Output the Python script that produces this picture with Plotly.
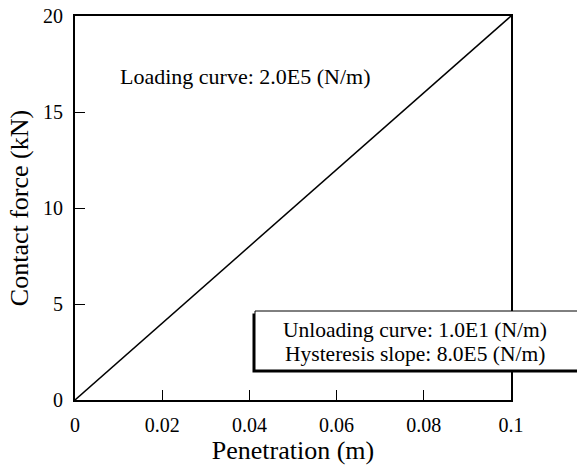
import plotly.graph_objects as go

penetration = [0.0, 0.1]
contact_force = [0.0, 20.0]
x_ticks = [0, 0.02, 0.04, 0.06, 0.08, 0.1]
x_tick_labels = ["0", "0.02", "0.04", "0.06", "0.08", "0.1"]
y_ticks = [0, 5, 10, 15, 20]
y_tick_labels = ["0", "5", "10", "15", "20"]

FONT = "Liberation Serif, Times New Roman, serif"

fig = go.Figure()
fig.add_trace(go.Scatter(x=penetration, y=contact_force, mode="lines",
                         line=dict(color="black", width=1.5), showlegend=False))

fig.update_layout(
    width=577, height=465,
    margin=dict(l=75, r=66, t=16, b=65, autoexpand=False),
    paper_bgcolor="white", plot_bgcolor="white",
    font=dict(family=FONT, color="black", size=20),
    xaxis=dict(range=[0, 0.1], tickvals=x_ticks, ticktext=x_tick_labels,
               ticks="inside", ticklen=10, tickwidth=1.2, tickcolor="black",
               showline=True, linecolor="black", linewidth=1.8, mirror=True,
               showgrid=False, zeroline=False, ticklabelstandoff=6, automargin=False,
               title=dict(text="Penetration (m)", font=dict(size=26), standoff=10),
               tickfont=dict(size=20)),
    yaxis=dict(range=[0, 20], tickvals=y_ticks, ticktext=y_tick_labels,
               ticks="inside", ticklen=10, tickwidth=1.2, tickcolor="black",
               showline=True, linecolor="black", linewidth=1.8, mirror=True,
               showgrid=False, zeroline=False, ticklabelstandoff=6, automargin=False,
               title=dict(text="Contact force (kN)", font=dict(size=26), standoff=7),
               tickfont=dict(size=20)),
)

fig.add_annotation(text="Loading curve: 2.0E5 (N/m)", xref="paper", yref="paper",
                   x=(118 - 75) / 436, y=(400 - 76) / 384, xanchor="left", yanchor="middle",
                   showarrow=False, font=dict(size=22, family=FONT))

# boxed note with shadow (left/bottom)
x0, x1 = (255 - 75) / 436, (600 - 75) / 436
y0, y1 = (400 - 370) / 384, (400 - 311) / 384
dx, dy = 2.5 / 436, 2.5 / 384
fig.add_shape(type="rect", xref="paper", yref="paper", x0=x0 - dx, x1=x1 - dx,
              y0=y0 - dy, y1=y1 - dy, fillcolor="black", line=dict(width=0))
fig.add_shape(type="rect", xref="paper", yref="paper", x0=x0, x1=x1,
              y0=y0, y1=y1, fillcolor="white", line=dict(color="black", width=1))
box_lines = ["Unloading curve: 1.0E1 (N/m)", "Hysteresis slope: 8.0E5 (N/m)"]
box_centers = [330, 354]
for txt, yc in zip(box_lines, box_centers):
    fig.add_annotation(text=txt, xref="paper", yref="paper",
                       x=(415 - 75) / 436, y=(400 - yc) / 384,
                       xanchor="center", yanchor="middle", showarrow=False,
                       font=dict(size=21.5, family=FONT))

fig.write_html("out.html")
